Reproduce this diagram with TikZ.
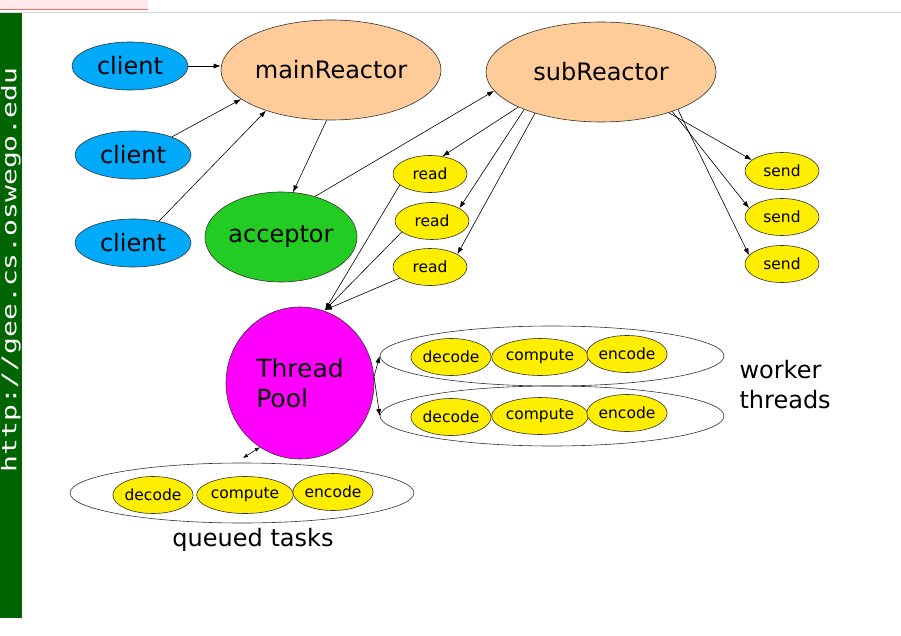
\documentclass[tikz,border=0pt]{standalone}
\usepackage{fontspec}
\setmainfont{DejaVu Sans}
\newfontfamily\monof{DejaVu Sans Mono}
\usetikzlibrary{shapes.geometric,arrows.meta}
\definecolor{cblue}{RGB}{0,170,250}
\definecolor{corange}{RGB}{255,204,153}
\definecolor{cgreen}{RGB}{34,204,34}
\definecolor{cyel}{RGB}{255,238,0}
\definecolor{cmag}{RGB}{255,0,255}
\definecolor{cdgreen}{RGB}{0,100,0}
\begin{document}
\begin{tikzpicture}[x=1pt,y=-1pt,
  el/.style={ellipse,draw=black!80,line width=0.6pt,inner sep=0pt},
  big/.style={el,font=\fontsize{24}{28}\selectfont},
  small/.style={el,fill=cyel,minimum width=74pt,minimum height=37pt,font=\fontsize{15.5}{18}\selectfont},
  grp/.style={el,fill=none,minimum width=344pt,minimum height=60pt},
  arr/.style={-{Latex[length=7pt,width=5pt]},line width=0.6pt}]
\useasboundingbox (0,0) rectangle (901,636);
\fill[white] (0,0) rectangle (901,636);
% screenshot chrome
\fill[red!8] (0,0) rectangle (148,9);
\draw[red!60,line width=1pt] (0,10) -- (148,10);
\draw[black!15] (0,12) -- (901,12);
\fill[cdgreen] (0,13) rectangle (22,618);
\node[rotate=90,text=white,inner sep=0pt,font=\monof\fontsize{28}{30}\selectfont] (url) at (11,270) {\scalebox{1}[0.72]{http://gee.cs.oswego.edu}};
% nodes
\node[big,fill=cblue,minimum width=116pt,minimum height=48pt] (c1) at (130,66) {client};
\node[big,fill=cblue,minimum width=116pt,minimum height=48pt] (c2) at (133,155) {client};
\node[big,fill=cblue,minimum width=116pt,minimum height=48pt] (c3) at (133,243) {client};
\node[big,fill=corange,minimum width=220pt,minimum height=100pt] (main) at (331,70) {mainReactor};
\node[big,fill=corange,minimum width=230pt,minimum height=100pt] (sub) at (601,72) {subReactor};
\node[big,fill=cgreen,minimum width=152pt,minimum height=90pt] (acc) at (281,237) {acceptor};
\node[small] (r1) at (430,174) {read};
\node[small] (r2) at (432,221) {read};
\node[small] (r3) at (430,267) {read};
\node[small] (s1) at (782,171) {send};
\node[small] (s2) at (782,217) {send};
\node[small] (s3) at (782,264) {send};
\node[big,fill=cmag,minimum width=148pt,minimum height=152pt,align=left,font=\fontsize{25}{30}\selectfont] (tp) at (300,383) {Thread\\Pool};
\node[grp] (w1) at (552,356) {};
\node[grp] (w2) at (552,416) {};
\node[grp] (q) at (242,493) {};
\node[small] (d1) at (451,357) {decode};
\node[small] (p1) at (540,357) {compute};
\node[small] (e1) at (627,354) {encode};
\node[small] (d2) at (451,417) {decode};
\node[small] (p2) at (540,416) {compute};
\node[small] (e2) at (627,413) {encode};
\node[small] (d3) at (153,495) {decode};
\node[small] (p3) at (245,495) {compute};
\node[small] (e3) at (333,492) {encode};
\node[font=\fontsize{24}{30}\selectfont,align=left,anchor=west] (wt) at (736,385) {worker\\threads};
\node[font=\fontsize{24}{26}\selectfont] (qt) at (253,540) {queued tasks};
% connectors
\draw[arr] (c1.east) -- (main.west|-c1.east);
\draw[arr] (c2.25) -- (main.198);
\draw[arr] (c3.40) -- (main.212);
\draw[arr] (main.265) -- (acc.75);
\draw[arr] (acc.50) -- (sub.190);
\draw[arr] (sub.203) -- (r1.55);
\draw[arr] (sub.206) -- (r2.25);
\draw[arr] (sub.212) -- (r3.25);
\draw[arr] (sub.329) -- (s1.160);
\draw[arr] (sub.331) -- (s2.165);
\draw[arr] (sub.334) -- (s3.165);
\coordinate (tpin) at (325,310);
\draw[arr] (r1.200) -- (tpin);
\draw[arr] (r2.200) -- (tpin);
\draw[arr] (r3.200) -- (tpin);
\draw[arr] (tp.5) -- (w1.west);
\draw[arr] (tp.5) -- (w2.west);
\coordinate (qa) at (243,458);
\draw[{Latex[length=5pt,width=4pt]}-{Latex[length=5pt,width=4pt]},line width=0.6pt] (qa) -- (tp.238);
\end{tikzpicture}
\end{document}
